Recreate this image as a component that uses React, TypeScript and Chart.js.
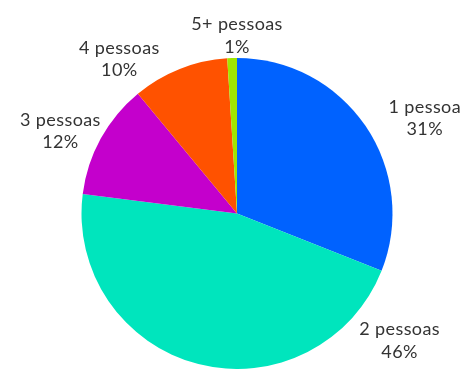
import React, { useEffect, useRef } from "react";
import { Chart, registerables } from "chart.js";

Chart.register(...registerables);

const categories = ["1 pessoa", "2 pessoas", "3 pessoas", "4 pessoas", "5+ pessoas"];
const values = [31, 46, 12, 10, 1];
const colors = ["#0062FF", "#00E5BD", "#C400CC", "#FF5200", "#A0E600"];

// label placement relative to pie: angle (deg clockwise from top), distance as fraction of radius
const labelAngles = [63, 128, 295, 322.7, 0];
const labelDist = [1.355, 1.327, 1.253, 1.249, 1.145];

const labelPlugin = {
  id: "outsideLabels",
  afterDatasetsDraw(chart: any) {
    const meta = chart.getDatasetMeta(0);
    const arc0 = meta.data[0];
    if (!arc0) return;
    const cx = arc0.x;
    const cy = arc0.y;
    const r = arc0.outerRadius;
    const ctx = chart.ctx;
    ctx.save();
    ctx.fillStyle = "#333333";
    ctx.font = "18px Lato";
    (ctx as any).letterSpacing = "0.4px";
    ctx.textAlign = "center";
    ctx.textBaseline = "middle";
    const total = values.reduce((a, b) => a + b, 0);
    categories.forEach((cat, i) => {
      const a = (labelAngles[i] * Math.PI) / 180;
      const d = labelDist[i] * r;
      const x = cx + Math.sin(a) * d;
      const y = cy - Math.cos(a) * d;
      const pct = Math.round((values[i] / total) * 100) + "%";
      ctx.fillText(cat, x, y - 11);
      ctx.fillText(pct, x, y + 11.5);
    });
    ctx.restore();
  },
};

export default function App() {
  const ref = useRef<HTMLCanvasElement | null>(null);
  useEffect(() => {
    if (!ref.current) return;
    const chart = new Chart(ref.current, {
      type: "pie",
      data: {
        labels: categories,
        datasets: [
          {
            data: values,
            backgroundColor: colors,
            borderWidth: 0,
          },
        ],
      },
      options: {
        responsive: false,
        animation: false,
        layout: { padding: { top: 58, bottom: -2, left: 10, right: 0 } },
        plugins: {
          legend: { display: false },
          tooltip: { enabled: false },
        },
      },
      plugins: [labelPlugin],
    });
    return () => chart.destroy();
  }, []);
  return (
    <div style={{ position: "absolute", left: 0, top: 0, width: 464, height: 369, background: "#fff" }}>
      <canvas ref={ref} width={464} height={369} style={{ width: 464, height: 369 }} />
    </div>
  );
}
